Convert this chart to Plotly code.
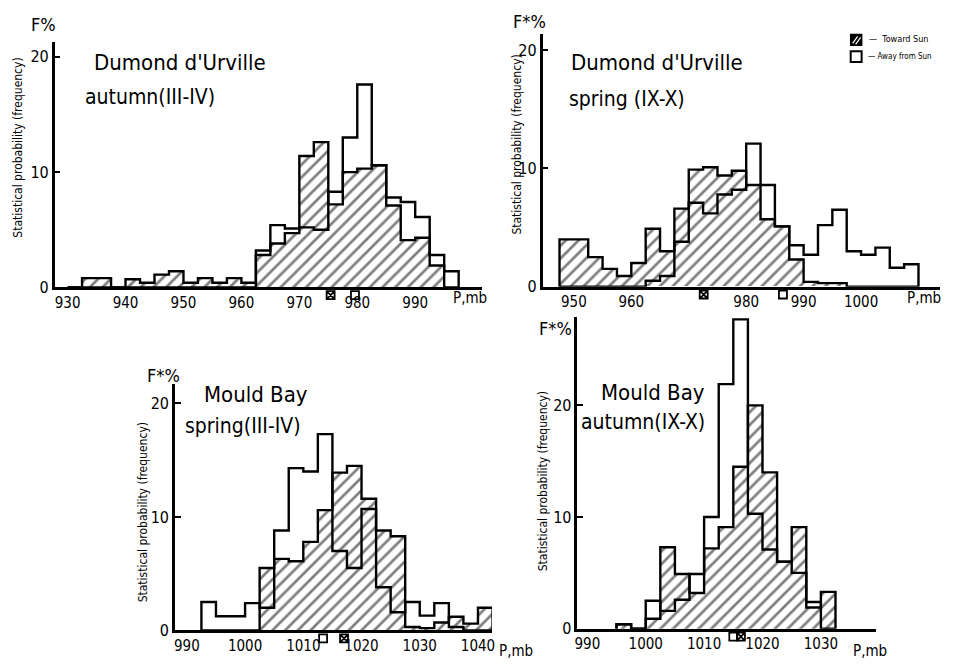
import plotly.graph_objects as go

# ---------------- data (bin left edges in mb, frequency in %) ----------------
BIN = 2.5

p1_left = [930, 932.5, 935, 937.5, 940, 942.5, 945, 947.5, 950, 952.5, 955, 957.5, 960,
           962.5, 965, 967.5, 970, 972.5, 975, 977.5, 980, 982.5, 985, 987.5, 990, 992.5, 995]
p1_toward = [0, 0.8, 0.8, 0, 0.7, 0.4, 1.1, 1.4, 0.4, 0.8, 0.4, 0.8, 0.4,
             2.8, 3.8, 4.7, 11.4, 12.6, 7.2, 10.0, 10.3, 10.6, 7.1, 4.1, 4.3, 1.9, 0]
p1_away = [0, 0, 0, 0, 0, 0, 0, 0, 0, 0, 0, 0, 0,
           3.2, 5.4, 5.1, 5.2, 5.0, 8.3, 13.0, 17.6, 10.6, 7.8, 7.4, 6.1, 2.8, 1.4]

p2_left = [947.5, 950, 952.5, 955, 957.5, 960, 962.5, 965, 967.5, 970, 972.5, 975, 977.5,
           980, 982.5, 985, 987.5, 990, 992.5, 995, 997.5, 1000, 1002.5, 1005, 1007.5]
p2_toward = [4.0, 4.0, 2.5, 1.5, 0.9, 2.0, 4.9, 3.0, 6.6, 9.9, 10.1, 9.4, 9.8,
             8.6, 5.7, 5.1, 2.3, 0.4, 0.3, 0.3, 0, 0, 0, 0, 0]
p2_away = [0, 0, 0, 0, 0, 0, 0.5, 0.9, 3.8, 7.1, 6.2, 7.8, 8.2,
           12.1, 8.6, 5.1, 3.5, 2.7, 5.2, 6.5, 3.0, 2.7, 3.3, 1.6, 1.9]

p3_left = [992.5, 995, 997.5, 1000, 1002.5, 1005, 1007.5, 1010, 1012.5, 1015,
           1017.5, 1020, 1022.5, 1025, 1027.5, 1030, 1032.5, 1035, 1037.5, 1040]
p3_toward = [0, 0, 0, 0, 5.5, 6.3, 6.1, 7.8, 10.6, 13.9,
             14.5, 11.6, 8.8, 8.3, 0.3, 0.2, 0.7, 1.2, 0.6, 2.0]
p3_away = [2.5, 1.25, 1.25, 2.4, 2.0, 8.8, 14.3, 14.0, 17.3, 7.0,
           5.5, 10.7, 3.8, 1.6, 2.5, 1.3, 2.4, 0.3, 0, 0]

p4_left = [995, 997.5, 1000, 1002.5, 1005, 1007.5, 1010, 1012.5, 1015, 1017.5,
           1020, 1022.5, 1025, 1027.5, 1030]
p4_toward = [0.4, 0, 0.9, 7.3, 4.9, 3.2, 7.2, 9.1, 14.5, 20.0, 14.0, 6.0, 9.1, 1.9, 3.3]
p4_away = [0.4, 0, 2.5, 1.6, 2.6, 4.9, 10.0, 21.9, 27.7, 10.3, 7.1, 6.0, 5.0, 2.4, 0]

# mean pressure markers shown under the axis
mean_toward = [975.4, 972.6, 1017.0, 1016.3]
mean_away = [979.6, 986.4, 1013.4, 1015.0]

x_ticks = [[930, 940, 950, 960, 970, 980, 990],
           [950, 960, 980, 990, 1000],
           [990, 1000, 1010, 1020, 1030, 1040],
           [990, 1000, 1010, 1020, 1030]]
y_ticks = [0, 10, 20]

titles = [("Dumond d'Urville", "autumn(III-IV)"),
          ("Dumond d'Urville", "spring (IX-X)"),
          ("Mould Bay", "spring(III-IV)"),
          ("Mould Bay", "autumn(IX-X)")]
ytitle = "Statistical probability (frequency)"

# ---------------- layout geometry (pixels in a 966 x 667 page) ----------------
W, H = 966, 667
FONT = "DejaVu Sans Condensed, Liberation Sans Narrow, DejaVu Sans, sans-serif"

# (x_left_px, x_right_px, y_bottom_px, y_top_px, x_range, y_range)
panels = [
    (52, 482, 291.7, 43, [927.77, 1001.53], [0, 21.26]),
    (543, 943, 291, 35, [944.56, 1013.77], [0, 21.33]),
    (173, 492, 640, 390, [987.95, 1042.4], [0, 21.7]),
    (578, 878, 638.3, 322, [988.3, 1039.36], [0, 27.9]),
]

def px(x):
    return x / W

def py(y):
    return 1 - y / H

fig = go.Figure()

datasets = [(p1_left, p1_toward, p1_away), (p2_left, p2_toward, p2_away),
            (p3_left, p3_toward, p3_away), (p4_left, p4_toward, p4_away)]

def step_xy(lefts, vals):
    xs = [lefts[0], lefts[0]] + list(lefts[1:]) + [lefts[-1] + BIN]
    ys = [0] + list(vals) + [0]
    return xs, ys

for i, (lefts, tow, awy) in enumerate(datasets):
    sfx = "" if i == 0 else str(i + 1)
    xa, ya = "x" + sfx, "y" + sfx
    centers = [l + BIN / 2 for l in lefts]
    fig.add_trace(go.Bar(
        x=centers, y=tow, width=BIN, xaxis=xa, yaxis=ya,
        marker=dict(color="white", line=dict(width=0),
                    pattern=dict(shape="/", fgcolor="black", bgcolor="white",
                                 size=9, solidity=0.3)),
        hoverinfo="skip", showlegend=False))
    for vals in (tow, awy):
        xs, ys = step_xy(lefts, vals)
        fig.add_trace(go.Scatter(
            x=xs, y=ys, xaxis=xa, yaxis=ya, mode="lines",
            line=dict(color="black", width=2.4, shape="hv"),
            hoverinfo="skip", showlegend=False))
    # mean markers in a thin strip just below the axis (shares this panel's x axis)
    fig.add_trace(go.Scatter(
        x=[mean_away[i], mean_toward[i]], y=[0.5, 0.5],
        xaxis=xa, yaxis="y" + str(i + 5), mode="markers", cliponaxis=False,
        marker=dict(symbol=["square-open", "square-x-open"], size=8,
                    color="black", line=dict(width=1.8, color="black")),
        hoverinfo="skip", showlegend=False))

layout = dict(
    width=W, height=H, margin=dict(l=0, r=0, t=0, b=0),
    paper_bgcolor="white", plot_bgcolor="rgba(0,0,0,0)",
    barmode="overlay", bargap=0, showlegend=False,
    font=dict(family=FONT, color="black"),
)

for i, (xl, xr, yb, yt, xr_, yr_) in enumerate(panels):
    sfx = "" if i == 0 else str(i + 1)
    layout["xaxis" + sfx] = dict(
        domain=[px(xl), px(xr)], range=xr_, anchor="y" + sfx,
        showline=True, linecolor="black", linewidth=2.5,
        showgrid=False, zeroline=False, ticks="",
        tickvals=x_ticks[i], tickfont=dict(size=15, family=FONT),
        fixedrange=True)
    layout["yaxis" + sfx] = dict(
        domain=[py(yb), py(yt)], range=yr_, anchor="x" + sfx,
        showline=True, linecolor="black", linewidth=2.5,
        showgrid=False, zeroline=False, ticks="inside", ticklen=6, tickwidth=2,
        tickcolor="black", tickvals=y_ticks, tickfont=dict(size=16, family=FONT),
        fixedrange=True)
    layout["yaxis" + str(i + 5)] = dict(
        domain=[py(yb + 16), py(yb + 0)], range=[0, 1], anchor="x" + sfx,
        visible=False, fixedrange=True)

fig.update_layout(**layout)

ann = []
def text(x, y, s, size, xanchor="center", angle=0):
    ann.append(dict(x=px(x), y=py(y), xref="paper", yref="paper", text=s,
                    showarrow=False, xanchor=xanchor, yanchor="middle",
                    textangle=angle, font=dict(size=size, family=FONT, color="black")))

# panel titles
title_pos = [((90, 63), (80, 98)), ((570, 63), (568, 100)),
             ((200, 400), (181, 432)), ((600, 398), (580, 428))]
for (t1, t2), ((x1, y1), (x2, y2)) in zip(titles, title_pos):
    text(x1, y1, t1, 22, "left")
    text(x2, y2, t2, 21, "left")

# y-axis titles
for (x, y) in [(15, 150), (517, 147), (141, 520), (543, 489)]:
    text(x, y, ytitle, 12, angle=-90)

# F% labels
text(41, 25, "F%", 18)
for (x, y) in [(530, 22), (161, 381), (556, 333)]:
    text(x, y, "F*%", 18)

# P, mb labels
for (x, y) in [(470, 303), (927, 303), (516, 661), (872, 661)]:
    text(x, y, "P,mb", 15)

# legend
text(869, 40, "\u2014  Toward Sun", 9, "left")
text(868, 57, "\u2014 Away from Sun", 8, "left")

shapes = []
shapes.append(dict(type="rect", xref="paper", yref="paper",
                   x0=px(853), x1=px(864), y0=py(46), y1=py(35),
                   line=dict(color="black", width=1.5), fillcolor="black"))
for (a, b) in [((855, 44), (860, 37)), ((858, 45), (863, 38))]:
    shapes.append(dict(type="line", xref="paper", yref="paper",
                       x0=px(a[0]), y0=py(a[1]), x1=px(b[0]), y1=py(b[1]),
                       line=dict(color="white", width=1.2)))
shapes.append(dict(type="rect", xref="paper", yref="paper",
                   x0=px(853), x1=px(864), y0=py(63), y1=py(52),
                   line=dict(color="black", width=2), fillcolor="white"))

fig.update_layout(annotations=ann, shapes=shapes)
fig.write_html("out.html")
